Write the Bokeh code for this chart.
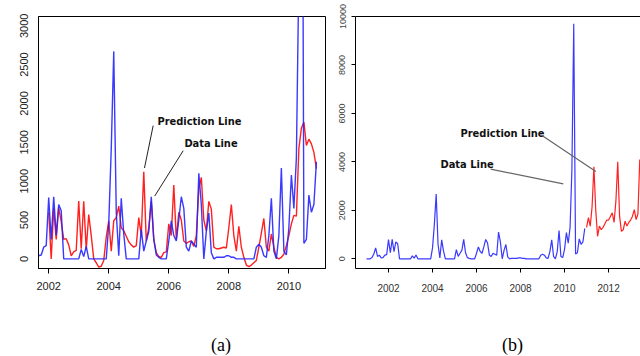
from bokeh.plotting import figure
from bokeh.models import FixedTicker, LinearAxis, Range1d
from bokeh.layouts import row, column
from bokeh.embed import file_html
from bokeh.resources import INLINE
from bokeh.core.properties import value

# ---------------- data (monthly) ----------------
# observed series ("Data Line"), Jan 2001 .. Dec 2010
data_2001 = [0, 0, 0, 50, 200, 450, 100, 150, 40, 50, 150, 170]
data_2002 = [790, 250, 800, 300, 700, 620, 0, 0, 0, 0, 0, 0]
data_2003 = [0, 120, 30, 160, 0, 0, 0, 0, 0, 0, 0, 0]
data_2004 = [450, 1420, 2670, 600, 40, 780, 320, 0, 0, 0, 0, 0]
data_2005 = [0, 380, 100, 230, 350, 800, 250, 50, 20, 0, 0, 0]
data_2006 = [230, 490, 300, 230, 500, 800, 650, 150, 100, 230, 190, 150]
data_2007 = [1100, 700, 0, 350, 590, 80, 0, 20, 20, 20, 20, 40]
data_2008 = [40, 20, 20, 0, 0, 0, 0, 0, 0, 0, 0, 150]
data_2009 = [190, 150, 40, 20, 300, 780, 100, 0, 300, 1170, 100, 50]
data_2010 = [400, 1080, 650, 1300, 3700, 9700, 200, 250, 820, 600, 700, 1250]

# fitted series ("Prediction Line", panel a), Jan 2002 .. Dec 2010
fit_2002 = [600, 0, 650, 250, 660, 480, 250, 260, 180, 40, 90, 110]
fit_2003 = [745, 130, 740, 120, 570, 300, 0, -50, -107, -95, -20, 280]
fit_2004 = [490, 100, 490, 530, 680, 400, 360, 290, 220, 180, 150, 170]
fit_2005 = [530, 300, 1120, 230, 400, 740, 250, 80, 30, 20, 80, 90]
fit_2006 = [450, 300, 950, 250, 600, 500, 230, 200, 220, 230, 160, 300]
fit_2007 = [900, 1050, 500, 360, 740, 640, 150, 130, 130, 140, 150, 140]
fit_2008 = [400, 700, 300, 100, 420, 150, 20, -80, -100, -80, -50, -20]
fit_2009 = [150, 330, 520, 150, 100, 320, 150, 20, 0, 20, 60, 170]
fit_2010 = [300, 450, 560, 550, 1420, 1680, 1760, 1460, 1540, 1480, 1370, 1160]

# forecast series ("Prediction Line", panel b), Jan 2011 .. Jun 2013
fc_2011 = [1300, 1700, 1350, 2150, 3800, 2000, 930, 1350, 1200, 1300, 1450, 1600]
fc_2012 = [1600, 1750, 1900, 1500, 2400, 4000, 1750, 1130, 1200, 1550, 1350, 1500]
fc_2013 = [1600, 1750, 2030, 1620, 1850, 4100]

a_xticks = [2002, 2004, 2006, 2008, 2010]
a_yticks = [0, 500, 1000, 1500, 2000, 2500, 3000]
b_xticks = [2002, 2004, 2006, 2008, 2010, 2012]
b_yticks = [0, 2000, 4000, 6000, 8000, 10000]
captions = ["(a)", "(b)"]

obs_values = (data_2001 + data_2002 + data_2003 + data_2004 + data_2005 +
              data_2006 + data_2007 + data_2008 + data_2009 + data_2010)
obs_time = [2001 + i / 12 for i in range(len(obs_values))]
fit_values = (fit_2002 + fit_2003 + fit_2004 + fit_2005 + fit_2006 +
              fit_2007 + fit_2008 + fit_2009 + fit_2010)
fit_time = [2002 + i / 12 for i in range(len(fit_values))]
fc_values = fc_2011 + fc_2012 + fc_2013
fc_time = [2011 + i / 12 for i in range(len(fc_values))]

# annotation anchors (data units)
a_labels = {"Prediction Line": (2005.62, 1766), "Data Line": (2006.52, 1485)}
a_pointers = [((2005.48, 1715), (2005.19, 1169)), ((2006.48, 1392), (2005.53, 808))]
b_labels = {"Prediction Line": (2005.27, 5180), "Data Line": (2004.36, 3876)}
b_pointers = [((2008.94, 5109), (2011.42, 3600)), ((2006.64, 3699), (2009.94, 3095))]

BLUE = "#2323ff"
RED = "#ff2020"
TICK_FONT = "Liberation Sans"
ANNOT_FONT = "DejaVu Sans Condensed"


def style_axis(ax, ticks, size, color, standoff, tick_out, orient=None):
    ax.ticker = FixedTicker(ticks=ticks)
    ax.major_tick_out = tick_out
    ax.major_tick_in = 0
    ax.minor_tick_out = 0
    ax.minor_tick_in = 0
    ax.major_label_standoff = standoff
    ax.major_label_text_font = TICK_FONT
    ax.major_label_text_font_size = size
    ax.major_label_text_color = color
    ax.axis_line_color = "black"
    ax.major_tick_line_color = "black"
    if orient is not None:
        ax.major_label_orientation = orient


def annotate(p, labels, pointers, line_color, line_width):
    names = list(labels.keys())
    p.text(x=[labels[n][0] for n in names], y=[labels[n][1] for n in names], text=names,
           text_font=value(ANNOT_FONT), text_font_style="bold", text_font_size="11px",
           text_color="#111111", text_align="left", text_baseline="middle")
    p.segment(x0=[a[0] for a, b in pointers], y0=[a[1] for a, b in pointers],
              x1=[b[0] for a, b in pointers], y1=[b[1] for a, b in pointers],
              line_color=line_color, line_width=line_width)


# ---------------- panel (a) ----------------
pa = figure(width=326, height=310, x_range=Range1d(2001.66, 2011.22),
            y_range=Range1d(-124, 3119), output_backend="svg", toolbar_location=None,
            min_border_left=38, min_border_right=1, min_border_top=14, min_border_bottom=42)
pa.grid.visible = False
pa.outline_line_color = "black"
style_axis(pa.xaxis[0], a_xticks, "11px", "#222222", 8, 5)
style_axis(pa.yaxis[0], a_yticks, "11px", "#222222", 10, 0, "vertical")
pa.line(fit_time, fit_values, line_color=RED, line_width=1.4)
pa.line(obs_time, obs_values, line_color=BLUE, line_width=1.4, line_alpha=0.9)
annotate(pa, a_labels, a_pointers, "#222222", 1)

# ---------------- panel (b) ----------------
pb = figure(width=314, height=310, x_range=Range1d(2000.5, 2013.45),
            y_range=Range1d(-400, 10000), output_backend="svg", toolbar_location=None,
            min_border_left=29, min_border_right=0, min_border_top=16, min_border_bottom=41)
pb.grid.visible = False
pb.outline_line_color = None
style_axis(pb.xaxis[0], b_xticks, "10px", "#333333", 11, 4)
style_axis(pb.yaxis[0], b_yticks, "9px", "#444444", 6, 4, "vertical")
top = LinearAxis(ticker=FixedTicker(ticks=[]), major_label_text_font_size="0px",
                 major_tick_out=0, major_tick_in=0, minor_tick_out=0, minor_tick_in=0,
                 axis_line_color="black", major_label_standoff=0)
pb.add_layout(top, "above")
pb.line(obs_time, obs_values, line_color=BLUE, line_width=1.2, line_alpha=0.9)
pb.line(fc_time, fc_values, line_color=RED, line_width=1.2)
annotate(pb, b_labels, b_pointers, "#666666", 1.2)

# ---------------- captions ----------------
pc = figure(width=640, height=46, x_range=Range1d(0, 640), y_range=Range1d(0, 46),
            output_backend="svg", toolbar_location=None,
            min_border_left=0, min_border_right=0, min_border_top=0, min_border_bottom=0)
pc.axis.visible = False
pc.grid.visible = False
pc.outline_line_color = None
pc.text(x=[220.5, 512], y=[12, 12], text=captions, text_font=value("Liberation Serif"),
        text_font_size="18px", text_color="black", text_align="center",
        text_baseline="middle")

layout = column(row(pa, pb), pc)
open("out.html", "w").write(file_html(layout, INLINE))
